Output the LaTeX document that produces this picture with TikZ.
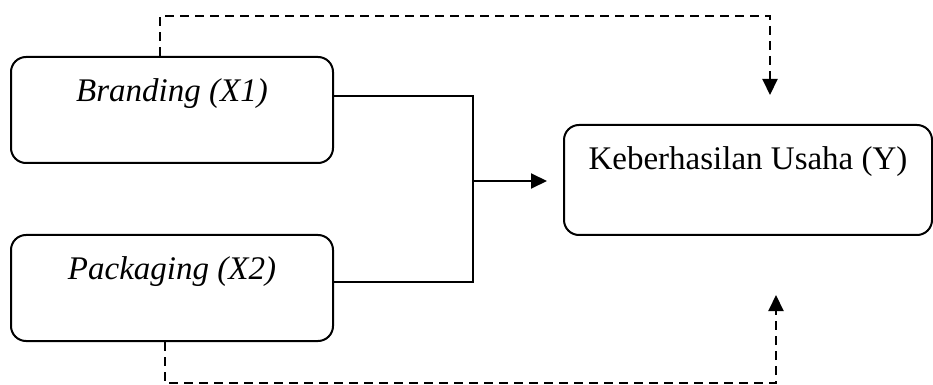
\documentclass[tikz,border=0pt]{standalone}
\usepackage{fontspec}
\setmainfont{Liberation Serif}
\usetikzlibrary{arrows.meta,positioning}

\begin{document}
\begin{tikzpicture}[x=0.5pt,y=-0.5pt,line width=1pt,>={Triangle[length=8pt,width=7.5pt]},
        var/.style={draw,rounded corners=7.5pt,minimum width=161pt,minimum height=53pt},
        dep/.style={draw,rounded corners=7.5pt,minimum width=184pt,minimum height=55pt},
        txt/.style={font=\fontsize{16.5}{20}\selectfont},
        dsh/.style={dash pattern=on 4.5pt off 3pt}]

                \useasboundingbox (0,0) rectangle (933,385);

                \node[var] (x1) at (172,110) {};
                \node[var] (x2) at (172,288) {};
                \node[dep] (y) at (748,180) {};

                \node[txt] (tx1) at ([yshift=-19pt]x1.north) {\itshape Branding (X1)};
                \node[txt] (tx2) at ([yshift=-19pt]x2.north) {\itshape Packaging (X2)};
                \node[txt] (ty) at ([yshift=-19pt]y.north) {Keberhasilan Usaha (Y)};

                \coordinate (j) at (473,181);
                \coordinate (tip) at (547,181);
                \coordinate (top) at (770,95);
                \coordinate (bot) at (776,295);

                % simultaneous effect
                \draw ([yshift=7pt]x1.east) -| (j) |- ([yshift=3pt]x2.east);
                \draw[->] (j) -- (tip);

                % partial effects
                \draw[dsh,->] ([xshift=-6pt]x1.north) |- ([yshift=20pt]top |- x1.north) -- (top);
                \draw[dsh,->] ([xshift=-3.5pt]x2.south) |- ([yshift=-20.5pt]bot |- x2.south) -- (bot);

            \end{tikzpicture}
\end{document}
